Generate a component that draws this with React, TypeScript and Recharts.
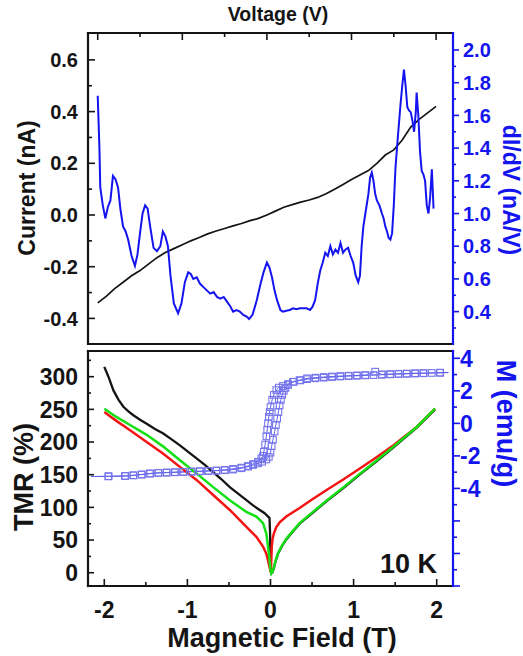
import { ComposedChart, Line, XAxis, YAxis } from 'recharts'

const FONT = '"Liberation Sans", Arial, Helvetica, sans-serif'
const INK = '#141414'
const BLUE = '#1414ee'
const SQUARE = '#7474ec'

// top panel: I-V curve and dI/dV
const V_IV = [-2.0, -1.9, -1.8, -1.7, -1.6, -1.5, -1.4, -1.3, -1.2, -1.1, -1.0, -0.9, -0.8, -0.7, -0.6, -0.5, -0.4, -0.3, -0.2, -0.1, 0.0, 0.1, 0.2, 0.3, 0.4, 0.5, 0.6, 0.7, 0.8, 0.9, 1.0, 1.1, 1.2, 1.3, 1.4, 1.5, 1.6, 1.7, 1.8, 1.9, 2.0]
const CURRENT = [-0.34, -0.315, -0.285, -0.26, -0.235, -0.215, -0.19, -0.165, -0.145, -0.13, -0.115, -0.1, -0.087, -0.073, -0.062, -0.052, -0.042, -0.033, -0.022, -0.013, 0.0, 0.015, 0.03, 0.04, 0.05, 0.058, 0.068, 0.082, 0.1, 0.118, 0.137, 0.155, 0.172, 0.2, 0.232, 0.252, 0.29, 0.34, 0.37, 0.395, 0.42]

const V_DIDV = [-2.0, -1.98, -1.97, -1.94, -1.91, -1.88, -1.85, -1.82, -1.79, -1.76, -1.73, -1.7, -1.67, -1.64, -1.6, -1.56, -1.53, -1.5, -1.47, -1.44, -1.41, -1.38, -1.34, -1.3, -1.26, -1.23, -1.2, -1.17, -1.14, -1.1, -1.05, -1.01, -0.97, -0.93, -0.9, -0.87, -0.83, -0.79, -0.75, -0.71, -0.67, -0.63, -0.59, -0.55, -0.51, -0.47, -0.43, -0.4, -0.36, -0.32, -0.28, -0.24, -0.21, -0.17, -0.12, -0.08, -0.04, 0.0, 0.03, 0.06, 0.09, 0.12, 0.16, 0.19, 0.23, 0.27, 0.31, 0.35, 0.39, 0.43, 0.47, 0.51, 0.54, 0.57, 0.6, 0.63, 0.66, 0.69, 0.72, 0.75, 0.78, 0.81, 0.84, 0.87, 0.9, 0.93, 0.96, 0.99, 1.02, 1.05, 1.08, 1.1, 1.12, 1.14, 1.17, 1.2, 1.22, 1.24, 1.26, 1.28, 1.3, 1.33, 1.36, 1.38, 1.4, 1.42, 1.44, 1.46, 1.48, 1.5, 1.52, 1.55, 1.58, 1.6, 1.62, 1.64, 1.66, 1.68, 1.7, 1.72, 1.74, 1.76, 1.77, 1.79, 1.81, 1.83, 1.85, 1.87, 1.89, 1.91, 1.93, 1.95, 1.96, 1.97]
const DIDV = [1.72, 1.4, 1.16, 1.05, 0.97, 1.04, 1.08, 1.23, 1.21, 1.16, 1.02, 0.92, 0.89, 0.84, 0.74, 0.68, 0.75, 0.88, 1.0, 1.05, 1.03, 0.92, 0.79, 0.77, 0.8, 0.89, 0.86, 0.8, 0.62, 0.45, 0.39, 0.45, 0.58, 0.64, 0.63, 0.6, 0.61, 0.57, 0.55, 0.53, 0.51, 0.52, 0.49, 0.48, 0.49, 0.46, 0.43, 0.4, 0.41, 0.4, 0.38, 0.37, 0.355, 0.38, 0.47, 0.56, 0.64, 0.7, 0.67, 0.61, 0.53, 0.47, 0.41, 0.4, 0.405, 0.41, 0.42, 0.415, 0.42, 0.42, 0.42, 0.41, 0.43, 0.47, 0.57, 0.65, 0.7, 0.76, 0.74, 0.8, 0.75, 0.78, 0.76, 0.82, 0.76, 0.78, 0.79, 0.74, 0.7, 0.62, 0.58, 0.62, 0.8, 0.92, 1.02, 1.12, 1.22, 1.25, 1.2, 1.12, 1.08, 1.05, 1.0, 0.97, 0.92, 0.89, 0.85, 0.84, 0.88, 1.05, 1.28, 1.48, 1.67, 1.78, 1.88, 1.78, 1.65, 1.63, 1.62, 1.57, 1.5, 1.62, 1.74, 1.6, 1.38, 1.26, 1.24, 1.2, 1.05, 1.0, 1.1, 1.27, 1.15, 1.03]

// bottom panel: TMR vs field
const FIELD_BLACK = [-2.0, -1.95, -1.89, -1.83, -1.77, -1.71, -1.65, -1.57, -1.49, -1.39, -1.29, -1.19, -1.09, -0.99, -0.89, -0.79, -0.69, -0.59, -0.49, -0.39, -0.29, -0.21, -0.13, -0.07, -0.03, -0.012, -0.005, 0.0, 0.01, 0.025, 0.04, 0.06, 0.09, 0.14, 0.19, 0.27, 0.35, 0.5, 0.68, 0.88, 1.08, 1.28, 1.48, 1.76, 1.98]
const TMR_BLACK = [315, 300, 279, 265, 254, 247, 241, 234, 228, 220, 213, 204, 195, 185, 175, 165, 154, 143, 131, 121, 111, 103, 96, 91, 86, 84, 60, 3, -1, 1, 7, 17, 29, 41, 51, 63, 75, 91, 110, 130, 151, 171, 192, 222, 250]
const FIELD_RED = [-2.0, -1.85, -1.69, -1.49, -1.29, -1.09, -0.89, -0.69, -0.49, -0.29, -0.17, -0.09, -0.05, -0.03, -0.01, 0.005, 0.015, 0.025, 0.04, 0.07, 0.11, 0.19, 0.35, 0.5, 0.68, 0.88, 1.08, 1.28, 1.48, 1.76, 1.98]
const TMR_RED = [246, 232, 218, 200, 182, 162, 142, 119, 96, 70, 55, 40, 29, 19, 8, 1, 40, 52, 60, 70, 77, 86, 99, 112, 127, 143, 160, 177, 195, 223, 251]
const FIELD_GREEN = [-2.0, -1.85, -1.69, -1.49, -1.29, -1.09, -0.89, -0.69, -0.49, -0.29, -0.17, -0.09, -0.05, -0.02, 0.0, 0.01, 0.025, 0.04, 0.06, 0.09, 0.14, 0.19, 0.27, 0.35, 0.5, 0.68, 0.88, 1.08, 1.28, 1.48, 1.76, 1.98]
const TMR_GREEN = [251, 238, 226, 211, 193, 172, 152, 131, 111, 93, 86, 76, 60, 30, 5, -1, 2, 8, 18, 30, 42, 52, 64, 76, 92, 111, 131, 152, 172, 193, 223, 251]

// magnetization loop, sweep down then sweep up
const FIELD_M_DOWN = [2.14, 2.04, 1.84, 1.74, 1.64, 1.54, 1.44, 1.34, 1.24, 1.14, 1.04, 0.94, 0.84, 0.74, 0.64, 0.54, 0.44, 0.36, 0.28, 0.21, 0.15, 0.1, 0.07, 0.04, 0.02, 0.0, -0.01, -0.02, -0.03, -0.04, -0.05, -0.065, -0.08, -0.09, -0.11, -0.15, -0.21, -0.27, -0.35, -0.45, -0.55, -0.65, -0.75, -0.85, -0.95, -1.05, -1.15, -1.25, -1.35, -1.45, -1.55, -1.65, -1.75, -1.95, -2.16]
const M_DOWN = [3.12, 3.11, 3.08, 3.07, 3.05, 3.03, 3.01, 2.99, 2.97, 2.95, 2.93, 2.91, 2.88, 2.85, 2.81, 2.77, 2.72, 2.64, 2.55, 2.42, 2.3, 2.2, 2.05, 1.75, 1.45, 1.0, 0.7, 0.4, 0.0, -0.4, -0.8, -1.3, -1.75, -2.0, -2.15, -2.36, -2.5, -2.62, -2.72, -2.8, -2.86, -2.9, -2.92, -2.94, -2.96, -2.98, -3.0, -3.02, -3.04, -3.08, -3.14, -3.2, -3.24, -3.26, -3.27]
const FIELD_M_UP = [-2.16, -1.95, -1.75, -1.65, -1.55, -1.45, -1.35, -1.25, -1.15, -1.05, -0.95, -0.85, -0.75, -0.65, -0.55, -0.45, -0.35, -0.27, -0.21, -0.15, -0.1, -0.05, -0.02, 0.0, 0.014, 0.03, 0.05, 0.065, 0.08, 0.095, 0.11, 0.125, 0.14, 0.16, 0.18, 0.21, 0.27, 0.35, 0.44, 0.54, 0.64, 0.74, 0.84, 0.94, 1.04, 1.14, 1.26, 1.34, 1.44, 1.54, 1.64, 1.74, 1.84, 1.94, 2.04, 2.14]
const M_UP = [-3.27, -3.25, -3.23, -3.19, -3.15, -3.09, -3.05, -3.03, -3.01, -2.99, -2.97, -2.95, -2.93, -2.91, -2.88, -2.84, -2.76, -2.66, -2.56, -2.46, -2.36, -2.22, -2.06, -1.8, -1.4, -1.0, -0.5, -0.1, 0.3, 0.7, 1.1, 1.45, 1.75, 2.0, 2.18, 2.36, 2.56, 2.66, 2.77, 2.81, 2.85, 2.88, 2.91, 2.93, 2.95, 2.97, 3.18, 3.01, 3.03, 3.05, 3.06, 3.08, 3.09, 3.1, 3.12, 3.13]

// axis ticks
const VOLT_TICKS = [-2, -1.5, -1, -0.5, 0, 0.5, 1, 1.5, 2]
const INT_MAJOR = [-2, -1, 0, 1, 2]
const CURRENT_TICKS = [-0.4, -0.3, -0.2, -0.1, 0.0, 0.1, 0.2, 0.3, 0.4, 0.5, 0.6]
const CURRENT_LABELS = [-0.4, -0.2, 0.0, 0.2, 0.4, 0.6]
const DIDV_TICKS = [0.3, 0.4, 0.5, 0.6, 0.7, 0.8, 0.9, 1.0, 1.1, 1.2, 1.3, 1.4, 1.5, 1.6, 1.7, 1.8, 1.9, 2.0]
const DIDV_LABELS = [0.4, 0.6, 0.8, 1.0, 1.2, 1.4, 1.6, 1.8, 2.0]
const FIELD_TICKS = [-2, -1.5, -1, -0.5, 0, 0.5, 1, 1.5, 2]
const TMR_TICKS = [0, 25, 50, 75, 100, 125, 150, 175, 200, 225, 250, 275, 300, 325]
const TMR_LABELS = [0, 50, 100, 150, 200, 250, 300]
const M_TICKS = [-10, -9, -8, -7, -6, -5, -4, -3, -2, -1, 0, 1, 2, 3, 4]
const M_MAJOR = [-10, -8, -6, -4, -2, 0, 2, 4]
const M_LABELS = [-4, -2, 0, 2, 4]

const zip = (xs: number[], ys: number[], xk: string, yk: string) =>
  xs.map((x, i) => ({ [xk]: x, [yk]: ys[i] }))

const ivData = zip(V_IV, CURRENT, 'v', 'i')
const didvData = zip(V_DIDV, DIDV, 'v', 'g')
const blackData = zip(FIELD_BLACK, TMR_BLACK, 'f', 'tmr')
const redData = zip(FIELD_RED, TMR_RED, 'f', 'tmr')
const greenData = zip(FIELD_GREEN, TMR_GREEN, 'f', 'tmr')
const mDownData = zip(FIELD_M_DOWN, M_DOWN, 'f', 'm')
const mUpData = zip(FIELD_M_UP, M_UP, 'f', 'm')

const has = (list: number[], v: number) => list.some((m) => Math.abs(m - v) < 1e-6)

type TickOpts = {
  side: 'left' | 'right' | 'top' | 'bottom'
  major: number[]
  labels?: number[]
  digits?: number
  inward: boolean
  long: number
  short: number
  gap?: number
  size?: number
  color: string
}

// ticks drawn by hand so majors/minors differ and labels sit outside
function makeTick(o: TickOpts) {
  return (props: any) => {
    const { x, y, payload } = props
    const v = payload.value as number
    const len = has(o.major, v) ? o.long : o.short
    const lab = o.labels && has(o.labels, v) ? v.toFixed(o.digits ?? 0) : null
    const dir = o.inward ? 1 : -1
    const textStyle = { fontFamily: FONT, fontWeight: 700, fontSize: o.size }
    let line = null
    let text = null
    if (o.side === 'left') {
      line = <line x1={x} y1={y} x2={x + dir * len} y2={y} />
      if (lab) text = <text x={x - (o.gap ?? 0)} y={y} dy="0.36em" textAnchor="end" style={textStyle}>{lab}</text>
    } else if (o.side === 'right') {
      line = <line x1={x} y1={y} x2={x - dir * len} y2={y} />
      if (lab) text = <text x={x + (o.gap ?? 0)} y={y} dy="0.36em" textAnchor="start" style={textStyle}>{lab}</text>
    } else if (o.side === 'top') {
      line = <line x1={x} y1={y} x2={x} y2={y + dir * len} />
    } else {
      line = <line x1={x} y1={y} x2={x} y2={y - dir * len} />
      if (lab) text = <text x={x} y={y + (o.gap ?? 0)} textAnchor="middle" style={textStyle}>{lab}</text>
    }
    return (
      <g>
        <g stroke={o.color} strokeWidth={1.6}>{line}</g>
        {text && <g fill={o.color} stroke="none">{text}</g>}
      </g>
    )
  }
}

function AxisTitle(props: any) {
  const { px, py, rot = 0, text, size, tint = INK, align = 'middle' } = props
  return (
    <text
      x={px}
      y={py}
      transform={rot ? `rotate(${rot} ${px} ${py})` : undefined}
      textAnchor={align}
      fill={tint}
      style={{ fontFamily: FONT, fontWeight: 700, fontSize: size }}
    >
      {text}
    </text>
  )
}

const renderSquare = (props: any) => {
  const { cx, cy, payload, index } = props
  if (cx == null || cy == null || Math.abs(payload.f) > 2.1) return <g key={`s${index}`} />
  return (
    <rect key={`s${index}`} x={cx - 3.3} y={cy - 3.3} width={6.6} height={6.6}
      fill="none" stroke={SQUARE} strokeWidth={1.1} />
  )
}

const frame = (color: string) => ({ stroke: color, strokeWidth: 2.2, strokeLinecap: 'square' as const })

function TopPanel() {
  return (
    <ComposedChart width={523} height={350} margin={{ top: 0, right: 0, bottom: 0, left: 0 }}>
      <XAxis xAxisId="v" orientation="top" type="number" dataKey="v" domain={[-2.115, 2.2]}
        allowDataOverflow ticks={VOLT_TICKS} interval={0} height={33} tickSize={0} tickMargin={0} tickLine={false}
        axisLine={frame(INK)}
        tick={makeTick({ side: 'top', major: INT_MAJOR, inward: true, long: 7, short: 4, color: INK })}
        label={<AxisTitle px={278} py={21} text="Voltage (V)" size={19.5} />} />
      <XAxis xAxisId="vb" orientation="bottom" type="number" domain={[-2.115, 2.2]}
        allowDataOverflow ticks={VOLT_TICKS} interval={0} height={6} tickSize={0} tickMargin={0} tickLine={false}
        axisLine={frame(INK)}
        tick={makeTick({ side: 'bottom', major: INT_MAJOR, inward: true, long: 6, short: 3, color: INK })} />
      <YAxis yAxisId="i" orientation="left" type="number" domain={[-0.499, 0.704]} allowDataOverflow
        ticks={CURRENT_TICKS} interval={0} width={88} tickSize={0} tickMargin={0} tickLine={false}
        axisLine={frame(INK)}
        tick={makeTick({ side: 'left', major: CURRENT_LABELS, labels: CURRENT_LABELS, digits: 1, inward: true, long: 7, short: 4, gap: 10, size: 20, color: INK })}
        label={<AxisTitle px={35} py={188} rot={-90} text="Current (nA)" size={23} />} />
      <YAxis yAxisId="g" orientation="right" type="number" domain={[0.202, 2.104]} allowDataOverflow
        ticks={DIDV_TICKS} interval={0} width={70} tickSize={0} tickMargin={0} tickLine={false}
        axisLine={frame(BLUE)}
        tick={makeTick({ side: 'right', major: DIDV_LABELS, labels: DIDV_LABELS, digits: 1, inward: false, long: 6, short: 3, gap: 10, size: 20, color: BLUE })}
        label={<AxisTitle px={503} py={190} rot={90} text="dI/dV (nA/V)" size={23} tint={BLUE} />} />
      <Line xAxisId="v" yAxisId="i" data={ivData} dataKey="i" type="linear" stroke={INK}
        strokeWidth={1.7} dot={false} isAnimationActive={false} />
      <Line xAxisId="v" yAxisId="g" data={didvData} dataKey="g" type="linear" stroke={BLUE}
        strokeWidth={2} dot={false} isAnimationActive={false} />
    </ComposedChart>
  )
}

function BottomPanel() {
  return (
    <ComposedChart width={523} height={312} margin={{ top: 0, right: 0, bottom: 0, left: 0 }}>
      <XAxis xAxisId="f" orientation="bottom" type="number" dataKey="f" domain={[-2.196, 2.196]}
        allowDataOverflow ticks={FIELD_TICKS} interval={0} height={70} tickSize={0} tickMargin={0} tickLine={false}
        axisLine={frame(INK)}
        tick={makeTick({ side: 'bottom', major: INT_MAJOR, labels: INT_MAJOR, inward: true, long: 7, short: 4, gap: 32, size: 23, color: INK })}
        label={<AxisTitle px={282} py={303} text="Magnetic Field (T)" size={27} />} />
      <XAxis xAxisId="ft" orientation="top" type="number" domain={[-2.196, 2.196]}
        allowDataOverflow ticks={FIELD_TICKS} interval={0} height={7} tickSize={0} tickMargin={0} tickLine={false}
        axisLine={frame(INK)}
        tick={makeTick({ side: 'top', major: INT_MAJOR, inward: true, long: 8, short: 4, color: INK })}
        label={<AxisTitle px={437} py={229} text="10 K" size={27} align="end" />} />
      <YAxis yAxisId="tmr" orientation="left" type="number" domain={[-20.3, 339.3]} allowDataOverflow
        ticks={TMR_TICKS} interval={0} width={88} tickSize={0} tickMargin={0} tickLine={false}
        axisLine={frame(INK)}
        tick={makeTick({ side: 'left', major: TMR_LABELS, labels: TMR_LABELS, inward: true, long: 6, short: 3, gap: 10, size: 23, color: INK })}
        label={<AxisTitle px={33} py={133} rot={-90} text="TMR (%)" size={27} />} />
      <YAxis yAxisId="m" orientation="right" type="number" domain={[-10, 4.45]} allowDataOverflow
        ticks={M_TICKS} interval={0} width={70} tickSize={0} tickMargin={0} tickLine={false}
        axisLine={frame(BLUE)}
        tick={makeTick({ side: 'right', major: M_MAJOR, labels: M_LABELS, inward: false, long: 7, short: 4, gap: 7, size: 23, color: BLUE })}
        label={<AxisTitle px={497} py={79.5} rot={90} text="M (emu/g)" size={27} tint={BLUE} />} />
      <Line xAxisId="f" yAxisId="m" data={mDownData} dataKey="m" type="linear" stroke="#5d5df0"
        strokeWidth={1} dot={renderSquare} isAnimationActive={false} />
      <Line xAxisId="f" yAxisId="m" data={mUpData} dataKey="m" type="linear" stroke="#5d5df0"
        strokeWidth={1} dot={renderSquare} isAnimationActive={false} />
      <Line xAxisId="f" yAxisId="tmr" data={blackData} dataKey="tmr" type="linear" stroke={INK}
        strokeWidth={2.3} dot={false} isAnimationActive={false} />
      <Line xAxisId="f" yAxisId="tmr" data={redData} dataKey="tmr" type="linear" stroke="#f41414"
        strokeWidth={2.5} dot={false} isAnimationActive={false} />
      <Line xAxisId="f" yAxisId="tmr" data={greenData} dataKey="tmr" type="linear" stroke="#14e014"
        strokeWidth={2.5} dot={false} isAnimationActive={false} />
    </ComposedChart>
  )
}

export default function App() {
  return (
    <div style={{ position: 'absolute', left: 0, top: 0, width: 523, height: 656, background: '#fff', overflow: 'hidden' }}>
      <div style={{ position: 'absolute', left: 0, top: 0 }}>
        <TopPanel />
      </div>
      <div style={{ position: 'absolute', left: 0, top: 344 }}>
        <BottomPanel />
      </div>
    </div>
  )
}
